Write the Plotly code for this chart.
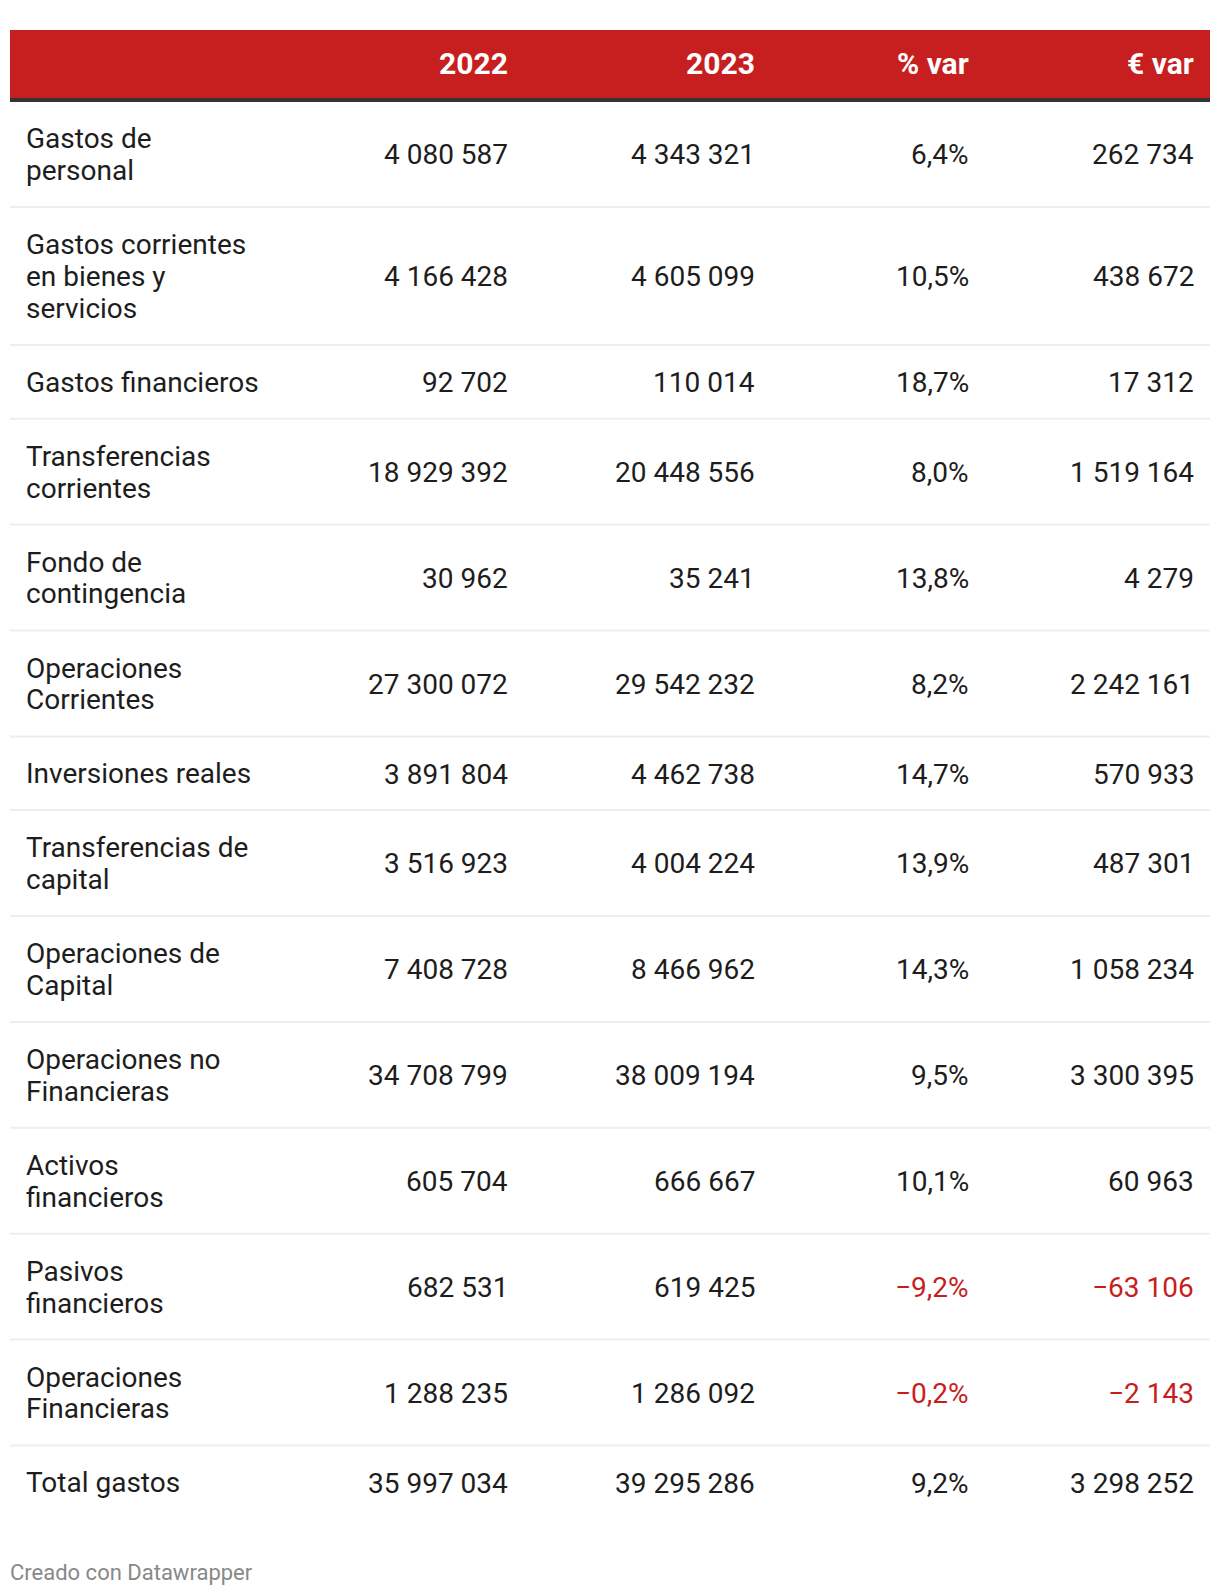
import plotly.graph_objects as go

# ---------------- data ----------------
columns = ["", "2022", "2023", "% var", "€ var"]
categories = [
    "Gastos de\npersonal",
    "Gastos corrientes\nen bienes y\nservicios",
    "Gastos financieros",
    "Transferencias\ncorrientes",
    "Fondo de\ncontingencia",
    "Operaciones\nCorrientes",
    "Inversiones reales",
    "Transferencias de\ncapital",
    "Operaciones de\nCapital",
    "Operaciones no\nFinancieras",
    "Activos\nfinancieros",
    "Pasivos\nfinancieros",
    "Operaciones\nFinancieras",
    "Total gastos",
]
v2022 = [4080587, 4166428, 92702, 18929392, 30962, 27300072, 3891804,
         3516923, 7408728, 34708799, 605704, 682531, 1288235, 35997034]
v2023 = [4343321, 4605099, 110014, 20448556, 35241, 29542232, 4462738,
         4004224, 8466962, 38009194, 666667, 619425, 1286092, 39295286]
pct_var = [6.4, 10.5, 18.7, 8.0, 13.8, 8.2, 14.7, 13.9, 14.3, 9.5, 10.1,
           -9.2, -0.2, 9.2]
eur_var = [262734, 438672, 17312, 1519164, 4279, 2242161, 570933, 487301,
           1058234, 3300395, 60963, -63106, -2143, 3298252]
source_note = "Creado con Datawrapper"

# ---------------- layout constants ----------------
W, H = 1220, 1596
X0, X1 = 10, 1210
HEAD_TOP, HEAD_BOT, RULE_BOT = 30, 98, 102
LABEL_X = 24
COL_RIGHT = [510, 757, 971, 1196]
LH = 31.8
PAD = 19.75
SEP = 2
NUM_DY = 0.8
LBL_DY = 0.5
FONT = "Roboto"
TEXT_COLOR = "#1d1d1d"
RED = "#c71f1f"
NEG = "#c71e1d"


def fmt_int(v):
    s = f"{abs(v):,}".replace(",", " ")
    return ("\u2212" if v < 0 else "") + s


def fmt_pct(v):
    s = f"{abs(v):.1f}".replace(".", ",") + "%"
    return ("\u2212" if v < 0 else "") + s


fig = go.Figure()
# invisible trace so axes are active
fig.add_trace(go.Scatter(x=[X0, X1], y=[HEAD_TOP, HEAD_TOP], mode="markers",
                         marker=dict(opacity=0), hoverinfo="skip",
                         showlegend=False))

shapes = []
annotations = []

# header
shapes.append(dict(type="rect", xref="x", yref="y", x0=X0, x1=X1,
                   y0=HEAD_TOP, y1=HEAD_BOT, fillcolor=RED, line_width=0,
                   layer="below"))
shapes.append(dict(type="rect", xref="x", yref="y", x0=X0, x1=X1,
                   y0=HEAD_BOT, y1=RULE_BOT, fillcolor="#333333",
                   line_width=0, layer="below"))
head_mid = (HEAD_TOP + HEAD_BOT) / 2 - 1
for ci, name in enumerate(columns[1:]):
    annotations.append(dict(x=COL_RIGHT[ci], y=head_mid, xref="x", yref="y",
                            text="<b>" + name + "</b>", showarrow=False,
                            xanchor="right", yanchor="middle",
                            font=dict(family=FONT, size=30, color="white")))

# body rows
top = RULE_BOT
n = len(categories)
row_lh = 32.2
for i in range(n):
    lines = categories[i].split("\n")
    h = 2 * PAD + len(lines) * row_lh + SEP
    text_top = top + PAD
    mid = text_top + len(lines) * row_lh / 2
    first = mid - (len(lines) - 1) * LH / 2
    for k, ln in enumerate(lines):
        annotations.append(dict(x=LABEL_X, y=first + k * LH + LBL_DY,
                                xref="x", yref="y", text=ln, showarrow=False,
                                xanchor="left", yanchor="middle",
                                font=dict(family=FONT, size=28,
                                          color=TEXT_COLOR)))
    cells = [fmt_int(v2022[i]), fmt_int(v2023[i]), fmt_pct(pct_var[i]),
             fmt_int(eur_var[i])]
    colors = [TEXT_COLOR, TEXT_COLOR,
              NEG if pct_var[i] < 0 else TEXT_COLOR,
              NEG if eur_var[i] < 0 else TEXT_COLOR]
    for ci, (t, c) in enumerate(zip(cells, colors)):
        annotations.append(dict(x=COL_RIGHT[ci], y=mid + NUM_DY, xref="x",
                                yref="y", text=t, showarrow=False,
                                xanchor="right", yanchor="middle",
                                font=dict(family=FONT, size=28, color=c)))
    if i < n - 1:
        ysep = top + h - SEP / 2
        shapes.append(dict(type="line", xref="x", yref="y", x0=X0, x1=X1,
                           y0=ysep, y1=ysep,
                           line=dict(color="#eeeeee", width=SEP),
                           layer="below"))
    top += h

# footer
annotations.append(dict(x=X0 - 2, y=1572, xref="x", yref="y",
                        text=source_note, showarrow=False, xanchor="left",
                        yanchor="middle",
                        font=dict(family=FONT, size=22, color="#888888")))

fig.update_layout(
    width=W, height=H, autosize=False,
    margin=dict(l=0, r=0, t=0, b=0, pad=0),
    paper_bgcolor="white", plot_bgcolor="white",
    xaxis=dict(range=[0, W], visible=False, fixedrange=True),
    yaxis=dict(range=[H, 0], visible=False, fixedrange=True),
    shapes=shapes, annotations=annotations, showlegend=False,
)

fig.write_html("out.html", config={"displayModeBar": False},
               post_script="document.body.style.margin='0';")
